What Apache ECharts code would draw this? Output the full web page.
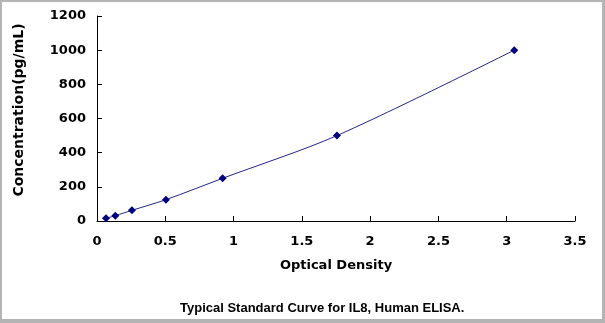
<!DOCTYPE html>
<html>
<head>
<meta charset="utf-8">
<title>Typical Standard Curve for IL8, Human ELISA.</title>
<script src="https://cdn.jsdelivr.net/npm/echarts@6/dist/echarts.min.js"></script>
<style>
  html, body { margin: 0; padding: 0; background: #ffffff; }
  #chart { width: 605px; height: 323px; }
</style>
</head>
<body>
<div id="chart"></div>
<script>
// Standard curve: optical density vs. concentration
const odValues = [0.066, 0.134, 0.256, 0.505, 0.92, 1.757, 3.055];
const concValues = [15.6, 31.2, 62.5, 125, 250, 500, 1000];
const xTicks = [0, 0.5, 1, 1.5, 2, 2.5, 3, 3.5];
const yTicks = [0, 200, 400, 600, 800, 1000, 1200];

const titleText = 'Typical Standard Curve for IL8, Human ELISA.';
const xName = 'Optical Density';
const yName = 'Concentration(pg/mL)';

const points = odValues.map((od, i) => [od, concValues[i]]);

const axisFont = { fontFamily: 'DejaVu Sans', fontWeight: 'bold', fontSize: 13, color: '#000' };
const frameGray = '#b4b4b4';

const chart = echarts.init(document.getElementById('chart'), null, { renderer: 'canvas' });
chart.setOption({
  animation: false,
  backgroundColor: '#ffffff',
  title: {
    text: titleText,
    left: 175,
    top: 297,
    textStyle: { fontFamily: 'Liberation Sans', fontWeight: 'bold', fontSize: 13, color: '#000' }
  },
  grid: { left: 97, top: 16, width: 478, height: 205, containLabel: false },
  xAxis: {
    type: 'value',
    min: xTicks[0],
    max: xTicks[xTicks.length - 1],
    interval: 0.5,
    name: xName,
    nameLocation: 'middle',
    nameGap: 38,
    nameTextStyle: axisFont,
    axisLine: { show: true, lineStyle: { color: '#000', width: 1 } },
    axisTick: { show: true, inside: true, length: 5, lineStyle: { color: '#000' } },
    axisLabel: Object.assign({ margin: 14, formatter: v => String(v) }, axisFont),
    splitLine: { show: false }
  },
  yAxis: {
    type: 'value',
    min: yTicks[0],
    max: yTicks[yTicks.length - 1],
    interval: 200,
    name: yName,
    nameLocation: 'middle',
    nameGap: 71,
    nameRotate: 90,
    nameTextStyle: Object.assign({}, axisFont, { fontSize: 14, padding: [0, 0, 0, 17] }),
    axisLine: { show: true, lineStyle: { color: '#000', width: 1 } },
    axisTick: { show: true, inside: true, length: 5, lineStyle: { color: '#000' } },
    axisLabel: Object.assign({ margin: 11, formatter: v => String(v) }, axisFont),
    splitLine: { show: false }
  },
  series: [{
    type: 'line',
    data: points,
    smooth: 0.3,
    symbol: 'diamond',
    symbolSize: 8,
    lineStyle: { color: '#24248a', width: 1 },
    itemStyle: { color: '#000080' }
  }],
  graphic: [
    { type: 'rect', left: 0, top: 0, shape: { width: 605, height: 2 }, style: { fill: frameGray }, silent: true },
    { type: 'rect', left: 0, top: 0, shape: { width: 2, height: 323 }, style: { fill: frameGray }, silent: true },
    { type: 'rect', right: 0, top: 0, shape: { width: 3, height: 323 }, style: { fill: frameGray }, silent: true },
    { type: 'rect', left: 0, bottom: 0, shape: { width: 605, height: 4 }, style: { fill: frameGray }, silent: true }
  ]
});
</script>
</body>
</html>
